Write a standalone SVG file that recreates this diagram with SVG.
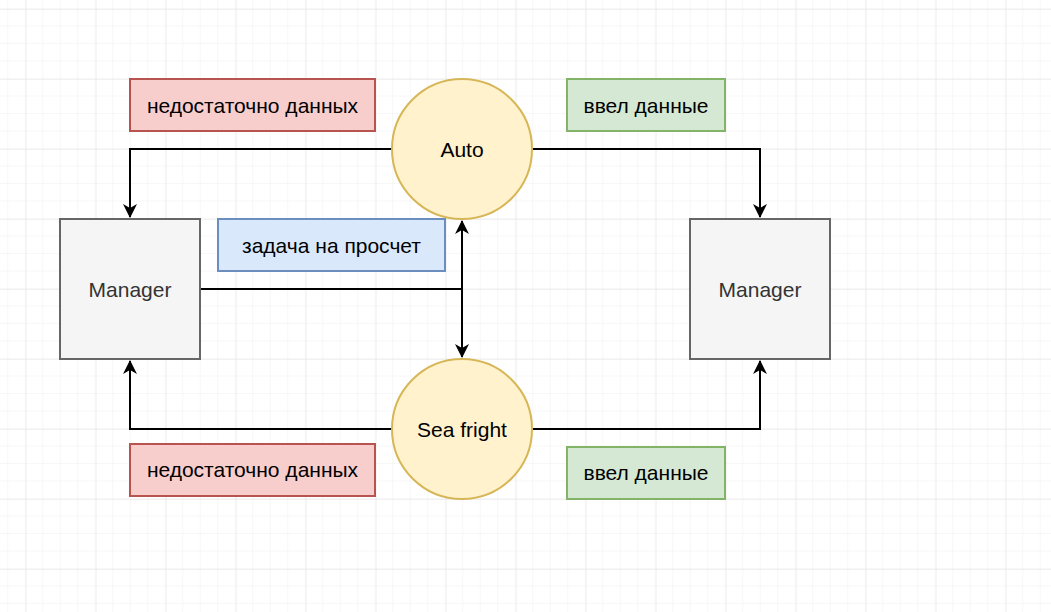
<svg xmlns="http://www.w3.org/2000/svg" width="1051" height="612" viewBox="0 0 1051 612">
<defs>
<pattern id="minor" x="8.2" y="9" width="17.5" height="17.5" patternUnits="userSpaceOnUse">
<path d="M17.5 0V17.5M0 17.5H17.5" fill="none" stroke="#f0f0f0" stroke-width="1"/>
</pattern>
<pattern id="major" x="25.7" y="9" width="70" height="70" patternUnits="userSpaceOnUse">
<path d="M0 0V70M0 0H70" fill="none" stroke="#e3e3e3" stroke-width="1"/>
</pattern>
<marker id="arr" viewBox="0 0 14 14" refX="13" refY="7" markerWidth="14" markerHeight="14" markerUnits="userSpaceOnUse" orient="auto">
<path d="M0 0L14 7L0 14L4 7Z" fill="#000"/>
</marker>
<style>
text{font-family:"Liberation Sans",Arial,sans-serif;font-size:21px;text-anchor:middle;dominant-baseline:central;fill:#000}
.mgr rect{fill:#f5f5f5;stroke:#666666;stroke-width:2}
.mgr text{fill:#333333}
.circ circle{fill:#fff2cc;stroke:#d6b656;stroke-width:2}
.red rect{fill:#f8cecc;stroke:#b85450;stroke-width:2}
.green rect{fill:#d5e8d4;stroke:#82b366;stroke-width:2}
.blue rect{fill:#dae8fc;stroke:#6c8ebf;stroke-width:2}
.edge{fill:none;stroke:#000;stroke-width:2}
</style>
</defs>
<rect width="1051" height="612" fill="#fff"/>
<rect width="1051" height="612" fill="url(#minor)"/>
<rect width="1051" height="612" fill="url(#major)"/>
<g id="connectors">
<path class="edge" d="M392 149H130V217" marker-end="url(#arr)"/>
<path class="edge" d="M532 149H760V217" marker-end="url(#arr)"/>
<path class="edge" d="M392 429H130V361" marker-end="url(#arr)"/>
<path class="edge" d="M532 429H760V361" marker-end="url(#arr)"/>
<path class="edge" d="M200 289H462V221" marker-end="url(#arr)"/>
<path class="edge" d="M462 289V357" marker-end="url(#arr)"/>
</g>
<g id="manager-left" class="mgr"><rect x="60" y="219" width="140" height="140"/><text x="130" y="289">Manager</text></g>
<g id="manager-right" class="mgr"><rect x="690" y="219" width="140" height="140"/><text x="760" y="289">Manager</text></g>
<g id="auto" class="circ"><circle cx="462" cy="149" r="70"/><text x="462" y="149">Auto</text></g>
<g id="sea" class="circ"><circle cx="462" cy="429" r="70"/><text x="462" y="429">Sea fright</text></g>
<g id="red-top" class="red"><rect x="130" y="79" width="245" height="52"/><text x="252.5" y="105">недостаточно данных</text></g>
<g id="green-top" class="green"><rect x="567" y="79" width="158" height="52"/><text x="646" y="105">ввел данные</text></g>
<g id="blue" class="blue"><rect x="218" y="219" width="227" height="52"/><text x="331.5" y="245">задача на просчет</text></g>
<g id="red-bottom" class="red"><rect x="130" y="444" width="245" height="52"/><text x="252.5" y="469">недостаточно данных</text></g>
<g id="green-bottom" class="green"><rect x="567" y="447" width="158" height="52"/><text x="646" y="472">ввел данные</text></g>
</svg>
